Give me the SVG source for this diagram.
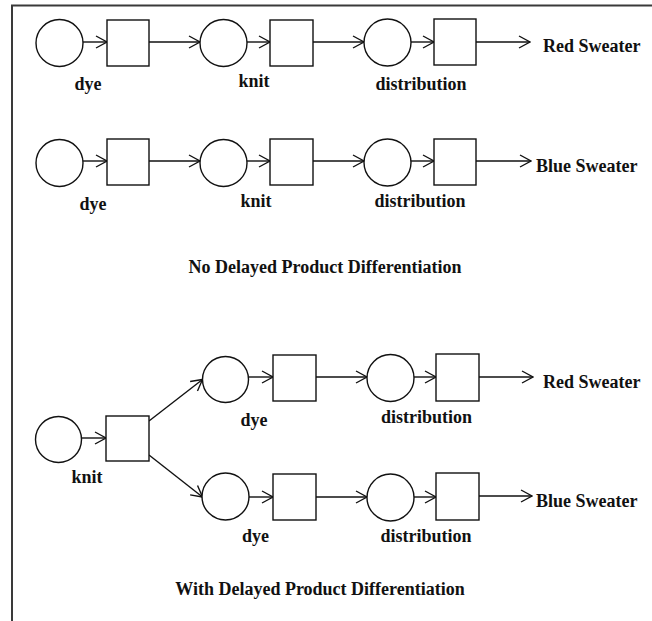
<svg xmlns="http://www.w3.org/2000/svg" width="652" height="621" viewBox="0 0 652 621">
  <style>
    .frame { stroke: #3a3a3a; stroke-width: 2; fill: none; }
    .node { fill: #fff; stroke: #111; stroke-width: 1.4; }
    .edge { stroke: #111; stroke-width: 1.4; fill: none; marker-end: url(#open); }
    .lbl { font-family: "Liberation Serif", "Times New Roman", serif; font-weight: bold; font-size: 18px; fill: #111; }
    .mid { text-anchor: middle; }
  </style>
  <defs>
    <marker id="open" viewBox="0 0 13 14" refX="12" refY="7" markerWidth="13" markerHeight="14" markerUnits="userSpaceOnUse" orient="auto">
      <path d="M1,1 L12,7 L1,13" fill="none" stroke="#111" stroke-width="1.4"/>
    </marker>
  </defs>
  <rect width="652" height="621" fill="#fff"/>
  <path class="frame" d="M12,621 V5.5 H652"/>

  <!-- connectors -->
  <g id="connectors">
    <!-- red chain, no delay -->
    <line class="edge" x1="83" y1="42" x2="107" y2="42"/>
    <line class="edge" x1="149" y1="42" x2="200" y2="42"/>
    <line class="edge" x1="247" y1="42" x2="270" y2="42"/>
    <line class="edge" x1="313" y1="42" x2="364" y2="42"/>
    <line class="edge" x1="411" y1="42" x2="434" y2="42"/>
    <line class="edge" x1="476" y1="42" x2="530" y2="42"/>
    <!-- blue chain, no delay -->
    <line class="edge" x1="83" y1="161" x2="107" y2="161"/>
    <line class="edge" x1="149" y1="161" x2="200" y2="161"/>
    <line class="edge" x1="247" y1="161" x2="270" y2="161"/>
    <line class="edge" x1="313" y1="161" x2="364" y2="161"/>
    <line class="edge" x1="411" y1="161" x2="434" y2="161"/>
    <line class="edge" x1="476" y1="161" x2="531" y2="161"/>
    <!-- delayed differentiation -->
    <line class="edge" x1="82" y1="438" x2="106" y2="438"/>
    <line class="edge" x1="149" y1="421" x2="202.5" y2="379.5"/>
    <line class="edge" x1="149" y1="455" x2="202.5" y2="497"/>
    <line class="edge" x1="249" y1="377" x2="273" y2="377"/>
    <line class="edge" x1="316" y1="377" x2="367" y2="377"/>
    <line class="edge" x1="414" y1="377" x2="436" y2="377"/>
    <line class="edge" x1="479" y1="377" x2="533" y2="377"/>
    <line class="edge" x1="249" y1="497" x2="273" y2="497"/>
    <line class="edge" x1="316" y1="497" x2="367" y2="497"/>
    <line class="edge" x1="414" y1="497" x2="436" y2="497"/>
    <line class="edge" x1="479" y1="496" x2="532" y2="496"/>
  </g>

  <!-- no delayed product differentiation: red -->
  <g id="r1-dye">
    <circle class="node" cx="59.5" cy="43" r="23.5"/>
    <rect class="node" x="107" y="20" width="42" height="46"/>
    <text class="lbl mid" x="88" y="90">dye</text>
  </g>
  <g id="r1-knit">
    <circle class="node" cx="223.5" cy="43" r="23.5"/>
    <rect class="node" x="270" y="20" width="43" height="46"/>
    <text class="lbl mid" x="254" y="87">knit</text>
  </g>
  <g id="r1-dist">
    <circle class="node" cx="387.5" cy="42.5" r="23.5"/>
    <rect class="node" x="434" y="19" width="42" height="46"/>
    <text class="lbl mid" x="421" y="90">distribution</text>
  </g>
  <g id="r1-out">
    <text class="lbl" x="543" y="52">Red Sweater</text>
  </g>

  <!-- no delayed product differentiation: blue -->
  <g id="r2-dye">
    <circle class="node" cx="59.5" cy="163" r="23.5"/>
    <rect class="node" x="107" y="139" width="42" height="46"/>
    <text class="lbl mid" x="93" y="210">dye</text>
  </g>
  <g id="r2-knit">
    <circle class="node" cx="223.5" cy="163" r="23.5"/>
    <rect class="node" x="270" y="139" width="43" height="46"/>
    <text class="lbl mid" x="256" y="207">knit</text>
  </g>
  <g id="r2-dist">
    <circle class="node" cx="387.5" cy="162.5" r="23.5"/>
    <rect class="node" x="434" y="139" width="42" height="46"/>
    <text class="lbl mid" x="420" y="207">distribution</text>
  </g>
  <g id="r2-out">
    <text class="lbl" x="536" y="172">Blue Sweater</text>
  </g>

  <g id="title-no-delay">
    <text class="lbl mid" x="325" y="273">No Delayed Product Differentiation</text>
  </g>

  <!-- with delayed product differentiation -->
  <g id="d-knit">
    <circle class="node" cx="58.5" cy="439.5" r="23"/>
    <rect class="node" x="106" y="416" width="43" height="45"/>
    <text class="lbl mid" x="87" y="483">knit</text>
  </g>
  <g id="d-dye-red">
    <circle class="node" cx="225.5" cy="379.5" r="23"/>
    <rect class="node" x="273" y="355" width="43" height="46"/>
    <text class="lbl mid" x="254" y="426">dye</text>
  </g>
  <g id="d-dist-red">
    <circle class="node" cx="390.5" cy="378" r="23.5"/>
    <rect class="node" x="436" y="354" width="43" height="47"/>
    <text class="lbl mid" x="426.5" y="423">distribution</text>
  </g>
  <g id="d-out-red">
    <text class="lbl" x="543" y="388">Red Sweater</text>
  </g>
  <g id="d-dye-blue">
    <circle class="node" cx="225.5" cy="496.5" r="23.5"/>
    <rect class="node" x="273" y="474" width="43" height="46"/>
    <text class="lbl mid" x="255.5" y="542">dye</text>
  </g>
  <g id="d-dist-blue">
    <circle class="node" cx="390.5" cy="497.5" r="23.5"/>
    <rect class="node" x="436" y="473" width="43" height="47"/>
    <text class="lbl mid" x="426" y="542">distribution</text>
  </g>
  <g id="d-out-blue">
    <text class="lbl" x="536" y="507">Blue Sweater</text>
  </g>

  <g id="title-delay">
    <text class="lbl mid" x="320" y="595">With Delayed Product Differentiation</text>
  </g>
</svg>
